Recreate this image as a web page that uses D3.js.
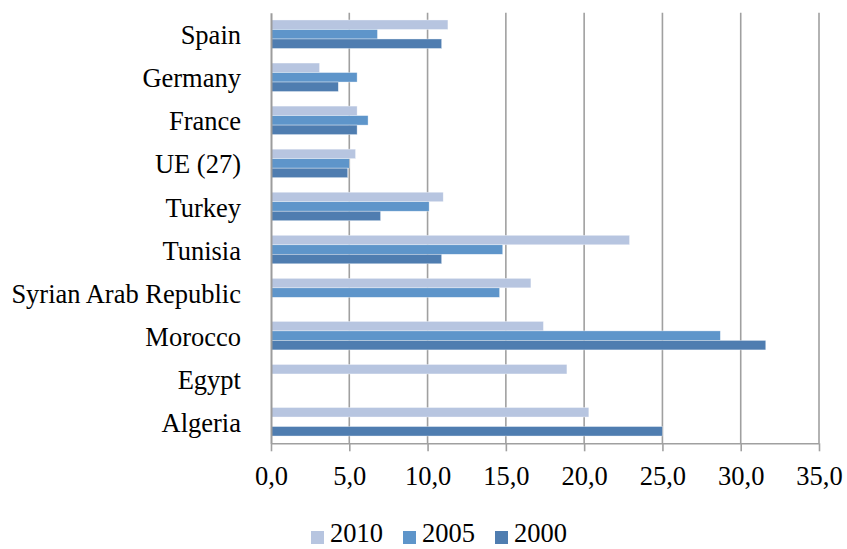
<!DOCTYPE html>
<html>
<head>
<meta charset="utf-8">
<script src="https://cdn.jsdelivr.net/npm/d3@7"></script>
<style>
  html, body { margin: 0; padding: 0; background: #fff; }
  svg { display: block; }
  text { font-family: "Liberation Serif", "Times New Roman", serif; fill: #000; }
</style>
</head>
<body>
<svg id="chart" width="847" height="549"></svg>
<script>
// Data
const categories = ["Spain", "Germany", "France", "UE (27)", "Turkey", "Tunisia",
                    "Syrian Arab Republic", "Morocco", "Egypt", "Algeria"];
const seriesNames = ["2010", "2005", "2000"];
const values2010 = [11.3, 3.1, 5.5, 5.4, 11.0, 22.9, 16.6, 17.4, 18.9, 20.3];
const values2005 = [6.8, 5.5, 6.2, 5.0, 10.1, 14.8, 14.6, 28.7, null, null];
const values2000 = [10.9, 4.3, 5.5, 4.9, 7.0, 10.9, null, 31.6, null, 25.0];
const xTicks = [0, 5, 10, 15, 20, 25, 30, 35];

const seriesValues = { "2010": values2010, "2005": values2005, "2000": values2000 };
const colors = { "2010": "#b7c5e0", "2005": "#5e95ca", "2000": "#4f7db0" };

const svg = d3.select("#chart");
const mLeft = 271, mRight = 819, mTop = 12.7, mBottom = 443.3;
const fontSize = 26.5;

const x = d3.scaleLinear().domain([0, 35]).range([mLeft, mRight]);
const y = d3.scaleBand().domain(categories).range([mTop, mBottom])
  .paddingInner(0.338).paddingOuter(0.169);
const ySub = d3.scaleBand().domain(seriesNames).range([0, y.bandwidth()]).padding(0);

// Gridlines
svg.append("g").selectAll("line")
  .data(xTicks.filter(d => d > 0))
  .join("line")
  .attr("x1", d => x(d)).attr("x2", d => x(d))
  .attr("y1", mTop).attr("y2", mBottom)
  .attr("stroke", "#a0a0a0").attr("stroke-width", 1.6);

// Bars
const rows = [];
categories.forEach((c, i) => {
  seriesNames.forEach(s => {
    const v = seriesValues[s][i];
    if (v != null) rows.push({ cat: c, series: s, value: v });
  });
});
svg.append("g").selectAll("rect")
  .data(rows)
  .join("rect")
  .attr("x", x(0))
  .attr("y", d => y(d.cat) + ySub(d.series))
  .attr("width", d => x(d.value) - x(0))
  .attr("height", ySub.bandwidth())
  .attr("fill", d => colors[d.series])
  .attr("stroke", "#ffffff").attr("stroke-opacity", 0.6).attr("stroke-width", 0.6);

// X axis
const xAxis = d3.axisBottom(x).tickValues(xTicks).tickSizeInner(8).tickSizeOuter(0)
  .tickFormat(d => d3.format(".1f")(d).replace(".", ","));
const gx = svg.append("g").attr("transform", `translate(0,${mBottom})`).call(xAxis);
gx.select(".domain").attr("stroke", "#a0a0a0").attr("stroke-width", 1.6);
gx.selectAll(".tick line").attr("stroke", "#a0a0a0").attr("stroke-width", 1.6);
gx.selectAll(".tick text").attr("font-size", fontSize).attr("dy", 0).attr("y", 41.7)
  .attr("font-family", "Liberation Serif, Times New Roman, serif").attr("fill", "#000");

// Y axis
const yAxis = d3.axisLeft(y).tickSize(0).tickPadding(30);
const gy = svg.append("g").attr("transform", `translate(${mLeft},0)`).call(yAxis);
gy.select(".domain").attr("stroke", "#9c9c9c").attr("stroke-width", 2);
gy.selectAll(".tick text").attr("font-size", fontSize).attr("dy", "0.38em")
  .attr("font-family", "Liberation Serif, Times New Roman, serif").attr("fill", "#000");

// Legend
const legendX = [311, 403, 495];
const legend = svg.append("g").selectAll("g")
  .data(seriesNames)
  .join("g")
  .attr("transform", (d, i) => `translate(${legendX[i]},0)`);
legend.append("rect")
  .attr("x", 0).attr("y", 531).attr("width", 13).attr("height", 13)
  .attr("fill", d => colors[d]);
legend.append("text")
  .attr("x", 19).attr("y", 542)
  .attr("font-size", fontSize)
  .text(d => d);
</script>
</body>
</html>
